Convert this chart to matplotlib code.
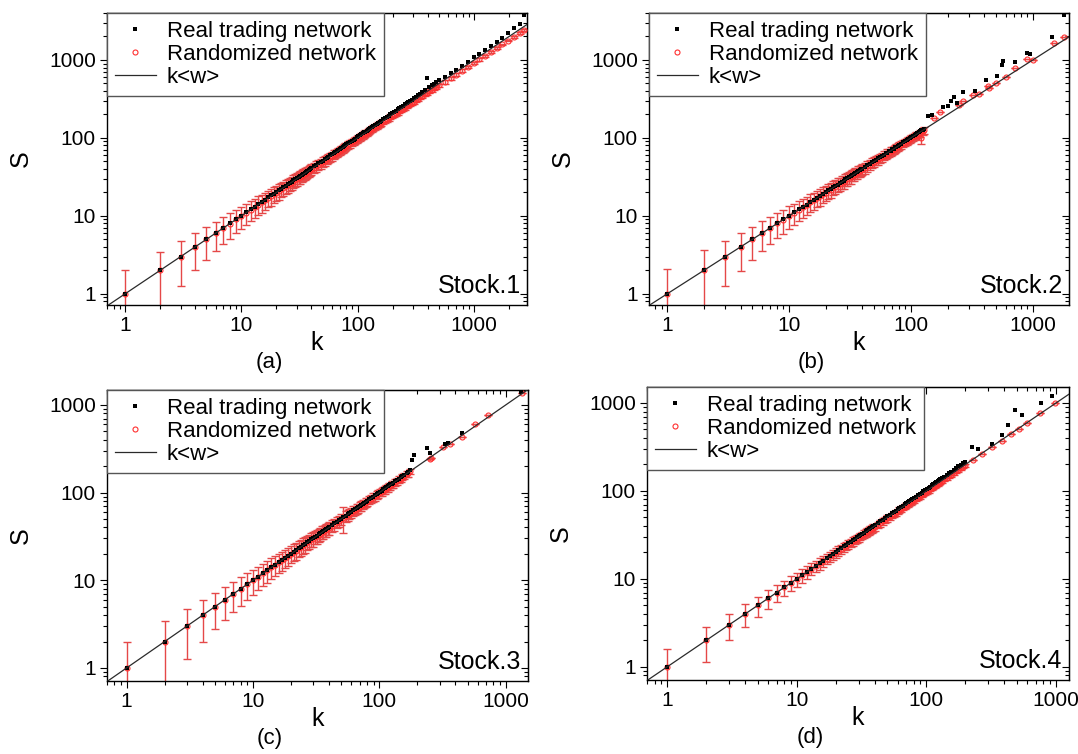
import matplotlib
matplotlib.use("Agg")
import matplotlib.pyplot as plt
from matplotlib.lines import Line2D
from matplotlib.ticker import LogLocator, FuncFormatter, NullFormatter
import numpy as np

plt.rcParams['font.family'] = ['Liberation Sans', 'DejaVu Sans']

# Degree values shared by the low-degree part of every network
k_low = [1, 2, 3, 4, 5, 6, 7, 8, 9, 10, 11, 12, 13, 14, 15, 16, 17, 18, 19, 20,
         21, 22, 23, 24, 25, 26, 27, 28, 29, 30, 31, 32, 33, 34, 35, 36, 37, 38, 39, 40,
         42, 44, 46, 48, 50, 52, 54, 56, 58, 60, 62, 64, 66, 68, 70, 72, 74, 76, 78, 80,
         83, 86, 89, 92, 95, 98, 101, 104, 107, 110, 113, 116, 119, 122, 125, 128]

# ---------------- Stock.1 ----------------
k_a = k_low + [132, 136, 140, 145, 150, 155, 160, 166, 172, 178, 184, 191, 198, 205, 212, 220, 228, 236,
               245, 254, 263, 272, 282, 292, 302,
               315, 330, 345, 360, 377, 395, 413, 432, 452, 473, 495,
               560, 630, 700, 790, 880, 990, 1110, 1240, 1390, 1560, 1750, 1960, 2200, 2460, 2700]
s_real_a = [1, 2, 3, 4, 5, 6, 7, 8, 9.1, 10.1, 11.1, 12.1, 13.1, 14.2, 15.2, 16.2, 17.3, 18.3, 19.3, 20.3,
            21.4, 22.4, 23.4, 24.5, 25.5, 26.5, 27.6, 28.6, 29.6, 30.6, 31.7, 32.7, 33.8, 34.8, 35.8, 36.8, 37.9, 38.9, 40.0, 41.0,
            43.1, 45.1, 47.2, 49.3, 51.3, 53.4, 55.4, 57.5, 59.6, 61.6, 63.7, 65.8, 67.9, 70.0, 72.1, 74.2, 76.3, 78.4, 80.5, 82.6,
            85.8, 89.0, 92.1, 95.2, 98.3, 101.5, 104.6, 107.8, 111.0, 114.2, 117.4, 120.6, 123.8, 127.0, 130.2, 133.4,
            137.0, 141.2, 145.5, 150.8, 156.2, 161.5, 166.9, 173.4, 179.8, 186.3, 192.8, 200.3, 207.9, 215.4, 223.0, 231.6, 240.3, 249.0,
            258.7, 268.5, 278.3, 288.1, 299.1, 310.0, 321.0,
            336, 353, 370, 387, 406, 580, 450, 473, 497, 522, 548,
            598, 676, 748, 846, 952, 1075, 1205, 1340, 1500, 1690, 1920, 2210, 2540, 2900, 3800]
s_rand_a = [1.0, 2.0, 3.0, 4.0, 5.0, 6.0, 7.0, 7.9, 9.0, 10.0, 10.9, 12.0, 12.9, 14.0, 14.9, 15.9, 17.0, 17.8, 19.0, 19.9,
            20.8, 22.0, 22.7, 24.0, 24.7, 25.9, 26.8, 27.8, 28.9, 29.6, 30.9, 31.6, 32.8, 33.7, 34.9, 35.5, 36.8, 37.6, 38.7, 39.5,
            41.5, 43.3, 45.5, 47.2, 49.4, 51.0, 53.3, 55.0, 57.2, 58.8, 61.1, 62.7, 65.0, 66.6, 68.9, 70.5, 72.8, 74.4, 76.7, 78.3,
            81.6, 84.6, 87.5, 90.4, 93.3, 96.2, 99.2, 102.1, 105.0, 107.9, 110.8, 113.8, 116.6, 119.5, 122.5, 125.4,
            129.2, 133.1, 137.0, 141.8, 146.6, 151.4, 156.2, 162.0, 167.8, 173.6, 179.4, 186.1, 192.8, 199.5, 206.2, 213.8, 221.5, 229.1,
            237.7, 246.3, 254.8, 263.4, 273.0, 282.5, 292.1,
            304, 318, 332, 347, 362, 379, 396, 414, 433, 452, 473,
            522, 586, 650, 730, 812, 910, 1015, 1130, 1265, 1415, 1580, 1770, 1980, 2210, 2430]
e_rand_a = [1.0, 1.45, 1.75, 2.0, 2.25, 2.45, 2.65, 2.85, 3.0, 3.15, 3.3, 3.45, 3.6, 3.75, 3.85, 4.0, 4.1, 4.25, 4.35, 4.45,
            4.6, 4.7, 4.8, 4.9, 5.0, 5.1, 5.2, 5.3, 5.4, 5.5, 5.55, 5.65, 5.75, 5.85, 5.9, 6.0, 6.1, 6.15, 6.25, 6.3,
            6.5, 6.6, 6.8, 6.9, 7.1, 7.2, 7.3, 7.5, 7.6, 7.7, 7.9, 8.0, 8.1, 8.2, 8.4, 8.5, 8.6, 8.7, 8.8, 8.9,
            9.1, 9.3, 9.4, 9.6, 9.7, 9.9, 10.0, 10.2, 10.3, 10.5, 10.6, 10.8, 10.9, 11.0, 11.2, 11.3,
            11.5, 11.7, 11.8, 12.0, 12.2, 12.4, 12.6, 12.9, 13.1, 13.3, 13.5, 13.8, 14.0, 14.3, 14.5, 14.8, 15.1, 15.3,
            15.6, 15.9, 16.2, 16.4, 16.7, 17.0, 17.3,
            17.7, 18.1, 18.5, 18.9, 19.4, 19.8, 20.3, 20.7, 21.2, 21.7, 22.2,
            23.7, 25.1, 26.5, 28.1, 29.7, 31.5, 33.3, 35.2, 37.3, 39.5, 41.8, 44.3, 46.9, 49.6, 52.0]

# ---------------- Stock.2 ----------------
k_real_b = k_low + [137, 150, 183, 200, 215, 225, 237, 265, 335, 410, 505, 560, 565, 710, 890, 950, 1440, 1790]
s_real_b = [1.0, 2.0, 3.0, 4.0, 5.0, 6.1, 7.0, 8.0, 9.0, 10.0, 11.2, 12.1, 13.1, 14.0, 15.2, 16.1, 17.0, 18.2, 19.1, 20.2,
            21.3, 22.0, 23.4, 24.3, 25.2, 26.1, 27.5, 28.4, 29.3, 30.2, 31.6, 32.5, 33.2, 34.2, 35.7, 36.6, 37.4, 38.3, 39.8, 40.5,
            42.8, 44.3, 46.9, 48.4, 50.9, 52.4, 55.0, 56.5, 59.1, 60.6, 63.2, 64.7, 67.3, 68.8, 71.4, 72.9, 75.5, 77.0, 79.6, 81.1,
            84.5, 87.6, 90.8, 93.9, 97.0, 99.8, 103.1, 106.3, 109.2, 112.4, 115.2, 118.5, 121.4, 124.6, 127.5, 130.8,
            190, 195, 248, 255, 295, 330, 280, 385, 400, 550, 620, 860, 975, 950, 1230, 1200, 1970, 3800]
k_rand_b = k_low + [156, 172, 250, 265, 320, 360, 425, 440, 500, 600, 710, 890, 1000, 1480, 1790]
s_rand_b = [1.0, 2.0, 3.0, 4.0, 5.0, 6.0, 7.0, 8.0, 8.9, 10.0, 10.9, 12.0, 13.0, 13.9, 15.0, 15.8, 17.0, 17.8, 19.0, 19.8,
            21.2, 21.7, 23.3, 23.8, 25.4, 25.8, 27.4, 27.6, 29.5, 29.7, 31.3, 31.6, 33.5, 33.7, 35.2, 35.5, 37.3, 37.6, 39.2, 39.4,
            41.3, 43.6, 45.1, 47.6, 49.0, 51.5, 52.9, 55.6, 56.8, 59.5, 60.8, 63.5, 64.6, 67.4, 68.6, 71.4, 72.5, 75.3, 76.5, 79.2,
            81.6, 85.2, 87.1, 90.8, 92.6, 96.4, 98.5, 102.0, 104.3, 107.8, 109.7, 113.3, 115.0, 100.0, 120.9, 124.8,
            178, 213, 263, 300, 355, 370, 470, 435, 500, 600, 780, 1030, 1000, 1650, 1970]
e_rand_b = [1.1, 1.6, 1.75, 2.05, 2.3, 2.5, 2.7, 2.85, 3.0, 3.2, 3.3, 3.45, 3.6, 3.75, 3.9, 4.0, 4.1, 4.25, 4.35, 4.45,
            4.6, 4.7, 4.8, 4.9, 5.0, 5.1, 5.2, 5.3, 5.4, 5.5, 5.55, 5.65, 5.75, 5.85, 5.9, 6.0, 6.1, 6.15, 6.25, 6.3,
            6.5, 6.6, 6.8, 6.9, 7.1, 7.2, 7.3, 7.5, 7.6, 7.7, 7.9, 8.0, 8.1, 8.2, 8.4, 8.5, 8.6, 8.7, 8.8, 8.9,
            9.1, 9.3, 9.4, 9.6, 9.7, 9.9, 10.0, 10.2, 10.3, 10.5, 10.6, 10.8, 10.9, 16.0, 11.2, 11.3,
            0, 0, 0, 0, 0, 0, 0, 0, 0, 0, 0, 0, 0, 0, 0]

# ---------------- Stock.3 ----------------
k_real_c = k_low + [132, 137, 142, 147, 152, 158, 164, 170, 176,
                    180, 187, 240, 250, 330, 350, 450, 1320]
s_real_c = [1.0, 2.0, 3.0, 4.0, 5.0, 6.0, 7.0, 8.0, 9.0, 10.0, 11.0, 12.0, 13.0, 14.0, 15.0, 16.0, 17.1, 18.1, 19.1, 20.1,
            21.1, 22.1, 23.1, 24.1, 25.2, 26.2, 27.2, 28.2, 29.2, 30.2, 31.3, 32.3, 33.3, 34.3, 35.3, 36.3, 37.4, 38.4, 39.4, 40.4,
            42.5, 44.5, 46.5, 48.5, 50.6, 52.6, 54.6, 56.6, 58.7, 60.7, 62.7, 64.7, 66.8, 68.8, 70.8, 72.8, 74.9, 76.9, 78.9, 80.9,
            84.0, 87.1, 90.1, 93.2, 96.2, 99.2, 102.3, 105.4, 108.5, 111.5, 114.6, 117.7, 120.7, 123.8, 126.9, 129.9,
            134.0, 139.1, 144.2, 149.3, 154.4, 160.5, 166.6, 172.7, 178.9,
            235, 270, 320, 280, 360, 370, 480, 1400]
k_rand_c = k_low + [132, 137, 142, 147, 152, 158, 164, 170, 176,
                    250, 255, 320, 360, 450, 575, 720, 1340]
s_rand_c = [1.0, 2.0, 3.0, 4.0, 5.0, 6.0, 7.0, 8.0, 9.0, 10.0, 11.0, 12.0, 13.0, 14.0, 15.0, 16.0, 17.0, 18.0, 19.0, 20.0,
            21.1, 21.8, 23.1, 23.8, 25.2, 25.8, 27.1, 27.8, 29.2, 29.7, 31.2, 31.7, 33.2, 33.6, 35.2, 35.6, 37.1, 37.5, 39.1, 39.4,
            41.8, 43.5, 45.8, 47.4, 49.8, 51.3, 53.7, 55.2, 57.7, 59.1, 61.7, 63.0, 65.6, 66.9, 69.6, 70.8, 73.5, 74.7, 77.5, 78.6,
            82.4, 84.9, 88.5, 90.5, 94.5, 96.1, 100.6, 101.8, 106.6, 107.4, 112.6, 113.0, 118.6, 118.7, 124.6, 124.3,
            131.0, 133.9, 140.9, 143.4, 150.8, 154.1, 162.7, 165.6, 174.3,
            240, 250, 330, 360, 435, 600, 760, 1370]
e_rand_c = [1.0, 1.45, 1.75, 2.0, 2.25, 2.45, 2.65, 2.85, 3.0, 3.15, 3.3, 3.45, 3.6, 3.75, 3.85, 4.0, 4.1, 4.25, 4.35, 4.45,
            4.6, 4.7, 4.8, 4.9, 5.0, 5.1, 5.2, 5.3, 5.4, 5.5, 5.55, 5.65, 5.75, 5.85, 5.9, 6.0, 6.1, 6.15, 6.25, 6.3,
            6.5, 6.6, 6.8, 6.9, 7.1, 17.0, 7.3, 7.5, 7.6, 7.7, 7.9, 8.0, 8.1, 8.2, 8.4, 8.5, 8.6, 8.7, 8.8, 8.9,
            9.1, 9.3, 9.4, 9.6, 9.7, 9.9, 10.0, 10.2, 10.3, 10.5, 10.6, 10.8, 10.9, 11.0, 11.2, 11.3,
            11.5, 11.7, 11.9, 12.1, 12.3, 12.6, 12.8, 13.0, 13.3,
            0, 0, 0, 0, 0, 0, 0, 0]

# ---------------- Stock.4 ----------------
k_real_d = k_low + [133, 138, 144, 150, 156, 163, 170, 177, 184, 192, 200,
                    225, 250, 320, 380, 425, 480, 550, 760, 930]
s_real_d = [1.0, 2.0, 3.0, 4.0, 5.0, 6.0, 7.0, 8.0, 9.0, 10.0, 11.1, 12.1, 13.1, 14.1, 15.2, 16.2, 17.2, 18.2, 19.3, 20.3,
            21.3, 22.4, 23.4, 24.4, 25.5, 26.5, 27.5, 28.6, 29.6, 30.6, 31.7, 32.7, 33.7, 34.8, 35.8, 36.9, 37.9, 39.0, 40.0, 41.0,
            43.1, 45.2, 47.3, 49.4, 51.4, 53.5, 55.6, 57.7, 59.8, 61.9, 64.0, 66.1, 68.2, 70.3, 72.4, 74.5, 76.7, 78.8, 80.9, 83.0,
            86.3, 89.5, 92.7, 96.0, 99.2, 102.3, 105.7, 108.9, 112.2, 115.5, 118.8, 122.0, 125.3, 128.6, 131.9, 135.2,
            140, 146, 153, 159, 166, 174, 182, 190, 198, 207, 216,
            320, 300, 340, 435, 560, 830, 730, 1000, 1200]
k_rand_d = k_low + [133, 138, 144, 150, 156, 163, 170, 177, 184, 192, 200,
                    230, 270, 320, 380, 450, 520, 600, 750, 980]
s_rand_d = [1.0, 2.0, 3.0, 4.0, 5.0, 6.0, 7.0, 8.0, 9.0, 10.0, 11.0, 12.0, 13.0, 14.0, 15.0, 16.0, 17.0, 18.0, 19.0, 20.0,
            21.0, 21.9, 22.9, 23.8, 24.8, 25.7, 26.7, 27.6, 28.6, 29.5, 30.5, 31.4, 32.4, 33.3, 34.3, 35.2, 36.2, 37.1, 38.1, 39.0,
            41.1, 42.9, 45.0, 46.8, 48.9, 50.7, 52.8, 54.6, 56.7, 58.5, 60.6, 62.4, 64.5, 66.3, 68.4, 70.2, 72.3, 74.1, 76.2, 78.0,
            81.3, 84.0, 87.2, 89.9, 93.1, 95.8, 99.0, 101.7, 104.9, 107.6, 110.8, 113.5, 116.7, 119.4, 122.6, 125.3,
            130.3, 135.1, 141.2, 146.8, 152.9, 159.6, 166.6, 173.5, 180.3, 188.1, 196.0,
            225, 265, 320, 370, 440, 510, 590, 760, 1010]
e_rand_d = [0.6, 0.85, 1.0, 1.15, 1.3, 1.4, 1.5, 1.6, 1.7, 1.8, 1.9, 2.0, 2.05, 2.1, 2.2, 2.25, 2.3, 2.4, 2.45, 2.5,
            2.55, 2.6, 2.65, 2.7, 2.8, 2.85, 2.9, 2.95, 3.0, 3.05, 3.1, 3.15, 3.2, 3.25, 3.3, 3.35, 3.4, 3.45, 3.5, 3.55,
            3.65, 3.7, 3.8, 3.85, 3.95, 4.0, 4.1, 4.15, 4.25, 4.3, 4.4, 4.45, 4.5, 4.6, 4.65, 4.75, 4.8, 4.85, 4.95, 5.0,
            5.1, 5.2, 5.3, 5.35, 5.45, 5.55, 5.65, 5.7, 5.8, 5.9, 6.0, 6.05, 6.15, 6.2, 6.3, 6.4,
            6.5, 6.6, 6.75, 6.9, 7.0, 7.2, 7.3, 7.5, 7.6, 7.8, 8.0,
            0, 0, 0, 0, 0, 0, 0, 0, 0]

# mean link weight <w> of each network
w_mean = [1.0, 1.0, 1.0, 1.0]
stock_names = ["Stock.1", "Stock.2", "Stock.3", "Stock.4"]
panel_tags = ["(a)", "(b)", "(c)", "(d)"]
x_limits = [(0.70, 2850), (0.71, 1980), (0.70, 1500), (0.70, 1260)]
y_limits = [(0.72, 4000), (0.72, 4000), (0.71, 1480), (0.71, 1520)]

series = [
    (k_a, s_real_a, k_a, s_rand_a, e_rand_a),
    (k_real_b, s_real_b, k_rand_b, s_rand_b, e_rand_b),
    (k_real_c, s_real_c, k_rand_c, s_rand_c, e_rand_c),
    (k_real_d, s_real_d, k_rand_d, s_rand_d, e_rand_d),
]

W, H = 1078, 754
# axes boxes in pixels: left, top, right, bottom
boxes = [(107, 13, 527, 305), (649, 13, 1069, 305),
         (107, 390, 528, 681), (647, 387, 1069, 680)]

fig = plt.figure(figsize=(W / 100, H / 100), dpi=100)

RED_BAR = '#e54848'
RED_PT = '#ff3030'
LINE_C = '#2a2a2a'

for i, (kr, sr, kq, sq, eq) in enumerate(series):
    l, t, r, b = boxes[i]
    ax = fig.add_axes([l / W, 1 - b / H, (r - l) / W, (b - t) / H])
    ax.set_xscale('log')
    ax.set_yscale('log')
    ax.set_xlim(*x_limits[i])
    ax.set_ylim(*y_limits[i])

    ax.errorbar(kq, sq, yerr=eq, fmt='none', ecolor=RED_BAR, elinewidth=1.0,
                capsize=3.0, capthick=1.0, zorder=2)
    ax.plot(kq, sq, 'o', mfc='none', mec=RED_PT, ms=3.6, mew=0.8, zorder=3)
    ax.plot(kr, sr, 's', color='black', ms=2.6, mew=0, zorder=4)

    kk = np.array(x_limits[i])
    ax.plot(kk, w_mean[i] * kk, color=LINE_C, lw=0.9, zorder=5)

    for sp in ax.spines.values():
        sp.set_linewidth(1.0)

    fmt = FuncFormatter(lambda v, p: f"{v:g}")
    for axis in (ax.xaxis, ax.yaxis):
        axis.set_major_locator(LogLocator(base=10, numticks=10))
        axis.set_minor_locator(LogLocator(base=10, subs=np.arange(2, 10), numticks=30))
        axis.set_major_formatter(fmt)
        axis.set_minor_formatter(NullFormatter())
    ax.tick_params(which='both', direction='out', width=0.8, labelsize=15, pad=3)
    ax.tick_params(which='major', length=5)
    ax.tick_params(which='minor', length=2.8)

    # inward ticks on the top and right edges
    for sec, axis_name in ((ax.secondary_xaxis('top'), 'x'), (ax.secondary_yaxis('right'), 'y')):
        axis = sec.xaxis if axis_name == 'x' else sec.yaxis
        axis.set_major_locator(LogLocator(base=10, numticks=10))
        axis.set_minor_locator(LogLocator(base=10, subs=np.arange(2, 10), numticks=30))
        axis.set_major_formatter(NullFormatter())
        axis.set_minor_formatter(NullFormatter())
        sec.tick_params(which='both', direction='in', width=0.8)
        sec.tick_params(which='major', length=5)
        sec.tick_params(which='minor', length=2.8)

    ax.text(-0.205, 0.5, "S", transform=ax.transAxes, rotation=90,
            ha='center', va='center', fontsize=18)
    ax.text(0.5, -0.13, "k", transform=ax.transAxes, ha='center', va='center', fontsize=18)
    ax.text(0.386, -0.197, panel_tags[i], transform=ax.transAxes,
            ha='center', va='center', fontsize=16)
    ax.text(0.985, 0.025, stock_names[i], transform=ax.transAxes,
            ha='right', va='bottom', fontsize=18)

    handles = [
        Line2D([], [], ls='none', marker='s', color='black', ms=2.6, mew=0),
        Line2D([], [], ls='none', marker='o', mfc='none', mec=RED_PT, ms=3.6, mew=0.8),
        Line2D([], [], color=LINE_C, lw=0.9),
    ]
    leg = ax.legend(handles, ["Real trading network", "Randomized network", "k<w>"],
                    loc='upper left', bbox_to_anchor=(0, 1), borderaxespad=0,
                    fontsize=16, frameon=True, fancybox=False, framealpha=1,
                    edgecolor='#555555', handlelength=1.85, handletextpad=0.5,
                    labelspacing=0.1, borderpad=0.35)
    leg.get_frame().set_linewidth(1.0)
    leg.set_zorder(10)

fig.savefig("out.png", dpi=100)
